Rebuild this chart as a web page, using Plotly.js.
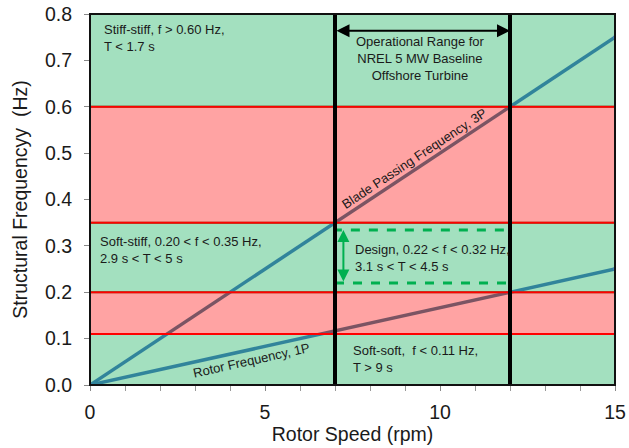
<!DOCTYPE html>
<html>
<head>
<meta charset="utf-8">
<script src="https://cdn.plot.ly/plotly-3.0.1.min.js"></script>
<style>html,body{margin:0;padding:0;background:#fff;}#chart{width:629px;height:448px;}</style>
</head>
<body>
<div id="chart"></div>
<script>
// Data
var rotorSpeed = [0, 15];          // rpm
var freq1P = [0, 0.25];            // Hz, rotor frequency
var freq3P = [0, 0.75];            // Hz, blade passing frequency
var greenBands = [[0, 0.11], [0.20, 0.35], [0.60, 0.80]];
var redBands = [[0.11, 0.20], [0.35, 0.60]];
var opRange = [7, 12];             // rpm
var designRange = [0.22, 0.334];   // Hz (box)
var yTicks = [0, 0.1, 0.2, 0.3, 0.4, 0.5, 0.6, 0.7, 0.8];
var xTicks = [0, 5, 10, 15];

var TEAL = '#31849b';
var GREEN_FILL = '#a3e0bf';
var GREEN_LINE = '#00b050';
var FONT = 'Liberation Sans, Arial, sans-serif';
var TXT = '#1a1a1a';

var shapes = [];
greenBands.forEach(function (b) {
  shapes.push({type: 'rect', layer: 'below', xref: 'x', yref: 'y', x0: rotorSpeed[0], x1: rotorSpeed[1], y0: b[0], y1: b[1],
    fillcolor: GREEN_FILL, line: {color: GREEN_LINE, width: 2}});
});
redBands.forEach(function (b) {
  shapes.push({type: 'rect', layer: 'above', xref: 'x', yref: 'y', x0: rotorSpeed[0], x1: rotorSpeed[1], y0: b[0], y1: b[1],
    fillcolor: 'rgba(255,0,0,0.36)', line: {color: '#ff0000', width: 2}});
});
// design dashed box
shapes.push({type: 'rect', layer: 'above', xref: 'x', yref: 'y', x0: opRange[0], x1: opRange[1], y0: designRange[0], y1: designRange[1],
  fillcolor: 'rgba(0,0,0,0)', line: {color: GREEN_LINE, width: 3, dash: 'dash'}});
// operational range vertical lines
opRange.forEach(function (x) {
  shapes.push({type: 'line', layer: 'above', xref: 'x', yref: 'paper', x0: x, x1: x, y0: 0, y1: 1,
    line: {color: '#000', width: 4}});
});
// frame
shapes.push({type: 'rect', layer: 'above', xref: 'paper', yref: 'paper', x0: 0, x1: 1, y0: 0, y1: 1,
  fillcolor: 'rgba(0,0,0,0)', line: {color: '#111', width: 2}});

var f = function (s) { return {family: FONT, size: s || 13, color: TXT}; };

var annotations = [
  {x: 0.34, y: 0.748, xref: 'x', yref: 'y', xanchor: 'left', yanchor: 'middle', align: 'left', showarrow: false,
    text: 'Stiff-stiff, f > 0.60 Hz,<br>T < 1.7 s', font: f()},
  {x: 0.22, y: 0.291, xref: 'x', yref: 'y', xanchor: 'left', yanchor: 'middle', align: 'left', showarrow: false,
    text: 'Soft-stiff, 0.20 < f < 0.35 Hz,<br>2.9 s < T < 5 s', font: f()},
  {x: 7.47, y: 0.056, xref: 'x', yref: 'y', xanchor: 'left', yanchor: 'middle', align: 'left', showarrow: false,
    text: 'Soft-soft,  f < 0.11 Hz,<br>T > 9 s', font: f()},
  {x: 7.5, y: 0.273, xref: 'x', yref: 'y', xanchor: 'left', yanchor: 'middle', align: 'left', showarrow: false,
    text: 'Design, 0.22 < f < 0.32 Hz,<br>3.1 s < T < 4.5 s', font: f()},
  {x: 9.45, y: 0.705, xref: 'x', yref: 'y', xanchor: 'center', yanchor: 'middle', align: 'center', showarrow: false,
    text: 'Operational Range for<br>NREL 5 MW Baseline<br>Offshore Turbine', font: f()},
  {x: 9.26, y: 0.489, xref: 'x', yref: 'y', xanchor: 'center', yanchor: 'middle', showarrow: false, textangle: -33.5,
    text: 'Blade Passing Frequency, 3P', font: f()},
  {x: 4.6, y: 0.052, xref: 'x', yref: 'y', xanchor: 'center', yanchor: 'middle', showarrow: false, textangle: -12.5,
    text: 'Rotor Frequency, 1P', font: f()},
  // operational range double arrow
  {x: opRange[1], y: 0.764, ax: opRange[0], ay: 0.764, xref: 'x', yref: 'y', axref: 'x', ayref: 'y', text: '',
    showarrow: true, arrowside: 'end+start', arrowhead: 2, startarrowhead: 2, arrowsize: 1.3, startarrowsize: 1.3, arrowwidth: 2, arrowcolor: '#000'},
  // design double arrow
  {x: 7.24, y: designRange[1], ax: 7.24, ay: designRange[0], xref: 'x', yref: 'y', axref: 'x', ayref: 'y', text: '',
    showarrow: true, arrowside: 'end+start', arrowhead: 2, startarrowhead: 2, arrowsize: 1.2, startarrowsize: 1.2, arrowwidth: 2, arrowcolor: GREEN_LINE}
];

var traces = [
  {x: rotorSpeed, y: freq3P, type: 'scatter', mode: 'lines+markers', line: {color: TEAL, width: 3.5},
    marker: {color: '#4f81bd', size: 4}, hoverinfo: 'skip', showlegend: false},
  {x: rotorSpeed, y: freq1P, type: 'scatter', mode: 'lines+markers', line: {color: TEAL, width: 3.5},
    marker: {color: '#4f81bd', size: 4}, hoverinfo: 'skip', showlegend: false}
];

var layout = {
  width: 629, height: 448,
  margin: {l: 90, r: 14, t: 14, b: 63, pad: 0},
  paper_bgcolor: '#fff', plot_bgcolor: '#fff',
  showlegend: false,
  font: {family: FONT, color: TXT},
  xaxis: {
    range: [0, 15], tickvals: xTicks, ticktext: xTicks.map(String),
    showgrid: false, zeroline: false, showline: true, linecolor: '#888', linewidth: 1,
    ticks: 'outside', ticklen: 5, tickcolor: '#888', tickwidth: 1, ticklabelstandoff: 5,
    minor: {dtick: 1, tick0: 0, ticks: 'outside', ticklen: 5, tickcolor: '#999', tickwidth: 1, showgrid: false},
    tickfont: {family: FONT, size: 19.5, color: TXT},
    title: {text: 'Rotor Speed (rpm)', font: {family: FONT, size: 19.5, color: TXT}, standoff: 4}
  },
  yaxis: {
    range: [0, 0.8], tickvals: yTicks, ticktext: yTicks.map(function (v) { return v.toFixed(1); }),
    showgrid: false, zeroline: false, showline: true, linecolor: '#888', linewidth: 1,
    ticks: 'outside', ticklen: 5, tickcolor: '#888', tickwidth: 1, ticklabelstandoff: 8,
    tickfont: {family: FONT, size: 19.5, color: TXT},
    title: {text: 'Structural Frequencyy  (Hz)', font: {family: FONT, size: 19.5, color: TXT}, standoff: 12}
  },
  shapes: shapes,
  annotations: annotations
};

Plotly.newPlot('chart', traces, layout, {staticPlot: true, displayModeBar: false});
</script>
</body>
</html>
